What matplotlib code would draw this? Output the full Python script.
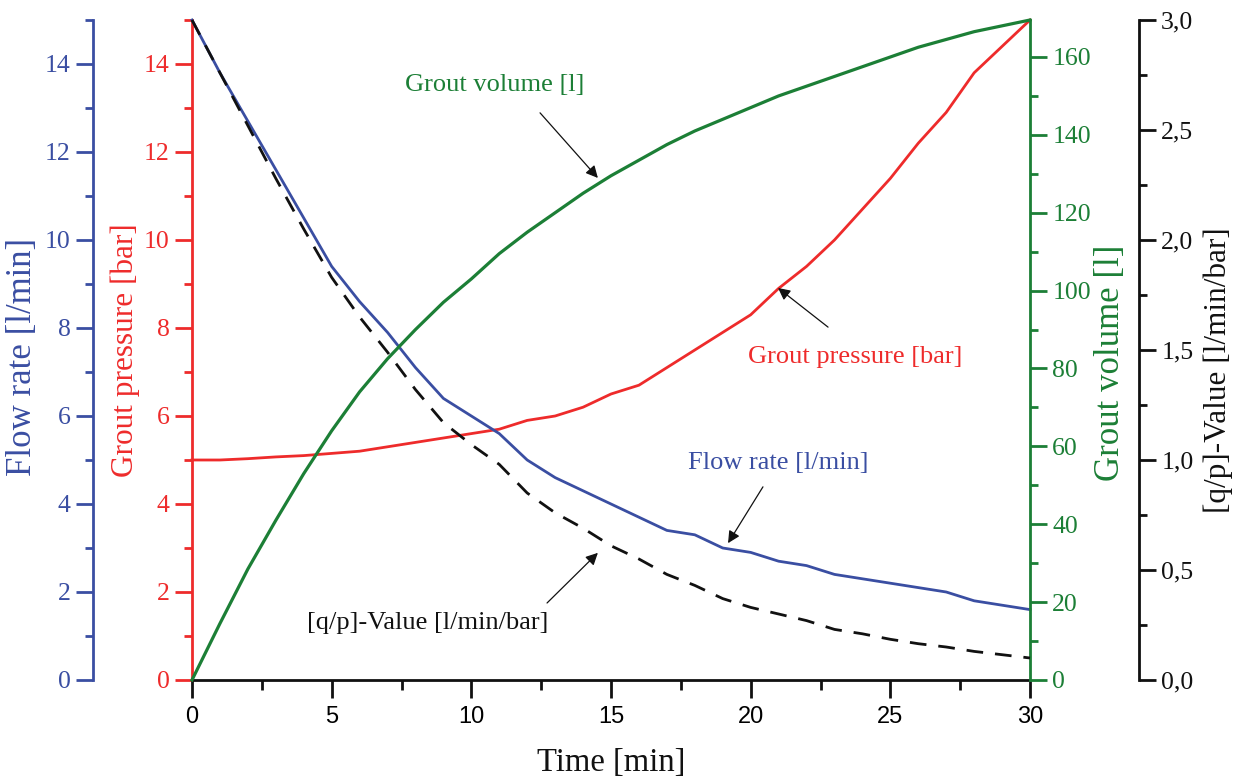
import matplotlib
matplotlib.use("Agg")
import matplotlib.pyplot as plt
from matplotlib.ticker import MultipleLocator, FuncFormatter

# ---------------- data ----------------
time_min = list(range(0, 31))
flow_rate = [15.0, 13.8, 12.7, 11.6, 10.5, 9.4, 8.6, 7.9, 7.1, 6.4, 6.0,
             5.6, 5.0, 4.6, 4.3, 4.0, 3.7, 3.4, 3.3, 3.0, 2.9,
             2.7, 2.6, 2.4, 2.3, 2.2, 2.1, 2.0, 1.8, 1.7, 1.6]
grout_pressure = [5.0, 5.0, 5.03, 5.07, 5.1, 5.15, 5.2, 5.3, 5.4, 5.5, 5.6,
                  5.7, 5.9, 6.0, 6.2, 6.5, 6.7, 7.1, 7.5, 7.9, 8.3,
                  8.9, 9.4, 10.0, 10.7, 11.4, 12.2, 12.9, 13.8, 14.4, 15.0]
grout_volume = [0, 14.5, 28.5, 41, 53, 64, 74, 82.5, 90, 97, 103,
                109.5, 115, 120, 125, 129.5, 133.5, 137.5, 141, 144, 147,
                150, 152.5, 155, 157.5, 160, 162.5, 164.5, 166.5, 168, 169.5]
qp_value = [3.0, 2.76, 2.52, 2.28, 2.05, 1.83, 1.65, 1.49, 1.32, 1.17, 1.07,
            0.98, 0.85, 0.76, 0.69, 0.61, 0.55, 0.48, 0.43, 0.37, 0.33,
            0.30, 0.27, 0.23, 0.21, 0.185, 0.165, 0.15, 0.13, 0.115, 0.10]

BLUE = "#3a4ea2"
RED = "#ee2b2b"
GREEN = "#1c7f36"
BLACK = "#111111"
SERIF = "Liberation Serif"
SANS = "Liberation Sans"

fig = plt.figure(figsize=(12.45, 7.76), dpi=100)
ax = fig.add_axes([192/1245, 1-680/776, 838/1245, 660/776])
ax_flow = ax.twinx()
ax_vol = ax.twinx()
ax_qp = ax.twinx()

SPW = 2.0
TICK_FS = 18.5
LABEL_FS = 22.5

# --- host: pressure (red, left) ---
ax.set_xlim(0, 30)
ax.set_ylim(0, 15)
for s in ["top", "right"]:
    ax.spines[s].set_visible(False)
ax.spines["left"].set_color(RED)
ax.spines["left"].set_linewidth(SPW)
ax.spines["bottom"].set_color(BLACK)
ax.spines["bottom"].set_linewidth(SPW)
ax.yaxis.set_major_locator(MultipleLocator(2))
ax.yaxis.set_minor_locator(MultipleLocator(1))
ax.xaxis.set_major_locator(MultipleLocator(5))
ax.xaxis.set_minor_locator(MultipleLocator(2.5))
ax.tick_params(axis="y", which="major", direction="out", length=12, width=SPW, color=RED,
               labelcolor=RED, labelsize=TICK_FS, pad=4)
ax.tick_params(axis="y", which="minor", direction="out", length=6, width=SPW, color=RED)
ax.tick_params(axis="x", which="major", direction="out", length=13, width=SPW, color=BLACK,
               labelsize=17, pad=6)
ax.tick_params(axis="x", which="minor", direction="out", length=7, width=SPW, color=BLACK)
for lab in ax.get_yticklabels():
    lab.set_fontfamily(SERIF)
for lab in ax.get_xticklabels():
    lab.set_fontfamily(SANS)
ax.set_xlabel("Time [min]", fontsize=23.5, family=SERIF, color=BLACK, labelpad=14)
ax.set_ylabel("Grout pressure [bar]", fontsize=LABEL_FS, family=SERIF, color=RED)
ax.yaxis.set_label_coords(-0.062, 0.5)

# --- flow rate (blue, outer left) ---
ax_flow.set_ylim(0, 15)
for s in ["top", "right", "bottom"]:
    ax_flow.spines[s].set_visible(False)
ax_flow.spines["left"].set_visible(True)
ax_flow.spines["left"].set_position(("outward", 99 * 72 / 100))
ax_flow.spines["left"].set_color(BLUE)
ax_flow.spines["left"].set_linewidth(SPW)
ax_flow.yaxis.set_ticks_position("left")
ax_flow.yaxis.set_label_position("left")
ax_flow.yaxis.set_major_locator(MultipleLocator(2))
ax_flow.yaxis.set_minor_locator(MultipleLocator(1))
ax_flow.tick_params(axis="y", which="major", direction="out", length=12, width=SPW, color=BLUE,
                    labelcolor=BLUE, labelsize=TICK_FS, pad=4)
ax_flow.tick_params(axis="y", which="minor", direction="out", length=6, width=SPW, color=BLUE)
for lab in ax_flow.get_yticklabels():
    lab.set_fontfamily(SERIF)
ax_flow.set_ylabel("Flow rate [l/min]", fontsize=25, family=SERIF, color=BLUE)
ax_flow.yaxis.set_label_coords(-0.182, 0.49)

# --- grout volume (green, right) ---
ax_vol.set_ylim(0, 169.5)
for s in ["top", "left", "bottom"]:
    ax_vol.spines[s].set_visible(False)
ax_vol.spines["right"].set_color(GREEN)
ax_vol.spines["right"].set_linewidth(SPW)
ax_vol.yaxis.set_major_locator(MultipleLocator(20))
ax_vol.yaxis.set_minor_locator(MultipleLocator(10))
ax_vol.tick_params(axis="y", which="major", direction="out", length=12, width=SPW, color=GREEN,
                   labelcolor=GREEN, labelsize=TICK_FS, pad=4)
ax_vol.tick_params(axis="y", which="minor", direction="out", length=6, width=SPW, color=GREEN)
for lab in ax_vol.get_yticklabels():
    lab.set_fontfamily(SERIF)
ax_vol.set_ylabel("Grout volume [l]", fontsize=25, family=SERIF, color=GREEN)
ax_vol.yaxis.set_label_coords(1.0765, 0.48)

# --- q/p value (black, outer right) ---
ax_qp.set_ylim(0, 3)
for s in ["top", "left", "bottom"]:
    ax_qp.spines[s].set_visible(False)
ax_qp.spines["right"].set_position(("outward", 109 * 72 / 100))
ax_qp.spines["right"].set_color(BLACK)
ax_qp.spines["right"].set_linewidth(SPW)
ax_qp.yaxis.set_major_locator(MultipleLocator(0.5))
ax_qp.yaxis.set_minor_locator(MultipleLocator(0.25))
ax_qp.yaxis.set_major_formatter(FuncFormatter(lambda v, p: f"{v:.1f}".replace(".", ",")))
ax_qp.tick_params(axis="y", which="major", direction="out", length=12, width=SPW, color=BLACK,
                  labelcolor=BLACK, labelsize=TICK_FS, pad=4)
ax_qp.tick_params(axis="y", which="minor", direction="out", length=6, width=SPW, color=BLACK)
for lab in ax_qp.get_yticklabels():
    lab.set_fontfamily(SERIF)
ax_qp.set_ylabel("[q/p]-Value [l/min/bar]", fontsize=LABEL_FS, family=SERIF, color=BLACK)
ax_qp.yaxis.set_label_coords(1.2076, 0.47)

# --- curves ---
LW = 2.0
ax.plot(time_min, grout_pressure, color=RED, lw=LW, clip_on=False, zorder=3)
ax_flow.plot(time_min, flow_rate, color=BLUE, lw=LW, clip_on=False, zorder=3)
ax_vol.plot(time_min, grout_volume, color=GREEN, lw=2.3, clip_on=False, zorder=3)
ax_qp.plot(time_min, qp_value, color=BLACK, lw=2.0, dashes=(6, 4.3), clip_on=False, zorder=3)

# --- annotations (placed on the top-most axes, in pressure-axis data coords) ---
top = ax_qp
tr = ax.transData
arrow = dict(arrowstyle="-|>", color=BLACK, lw=0.9, mutation_scale=18, shrinkA=0, shrinkB=0)
ANN_FS = 19

top.text(10.85, 13.52, "Grout volume [l]", transform=tr, color=GREEN, fontsize=ANN_FS,
         family=SERIF, ha="center", va="center")
top.annotate("", xy=(14.53, 11.41), xytext=(12.46, 12.89), xycoords=tr, textcoords=tr,
             arrowprops=arrow)

top.text(23.74, 7.34, "Grout pressure [bar]", transform=tr, color=RED, fontsize=ANN_FS,
         family=SERIF, ha="center", va="center")
top.annotate("", xy=(20.98, 8.91), xytext=(22.77, 8.02), xycoords=tr, textcoords=tr,
             arrowprops=arrow)

top.text(20.98, 4.93, "Flow rate [l/min]", transform=tr, color=BLUE, fontsize=ANN_FS,
         family=SERIF, ha="center", va="center")
top.annotate("", xy=(19.19, 3.11), xytext=(20.44, 4.39), xycoords=tr, textcoords=tr,
             arrowprops=arrow)

top.text(8.45, 1.30, "[q/p]-Value [l/min/bar]", transform=tr, color=BLACK, fontsize=ANN_FS,
         family=SERIF, ha="center", va="center")
top.annotate("", xy=(14.53, 2.89), xytext=(12.71, 1.75), xycoords=tr, textcoords=tr,
             arrowprops=arrow)

fig.savefig("out.png", dpi=100)
